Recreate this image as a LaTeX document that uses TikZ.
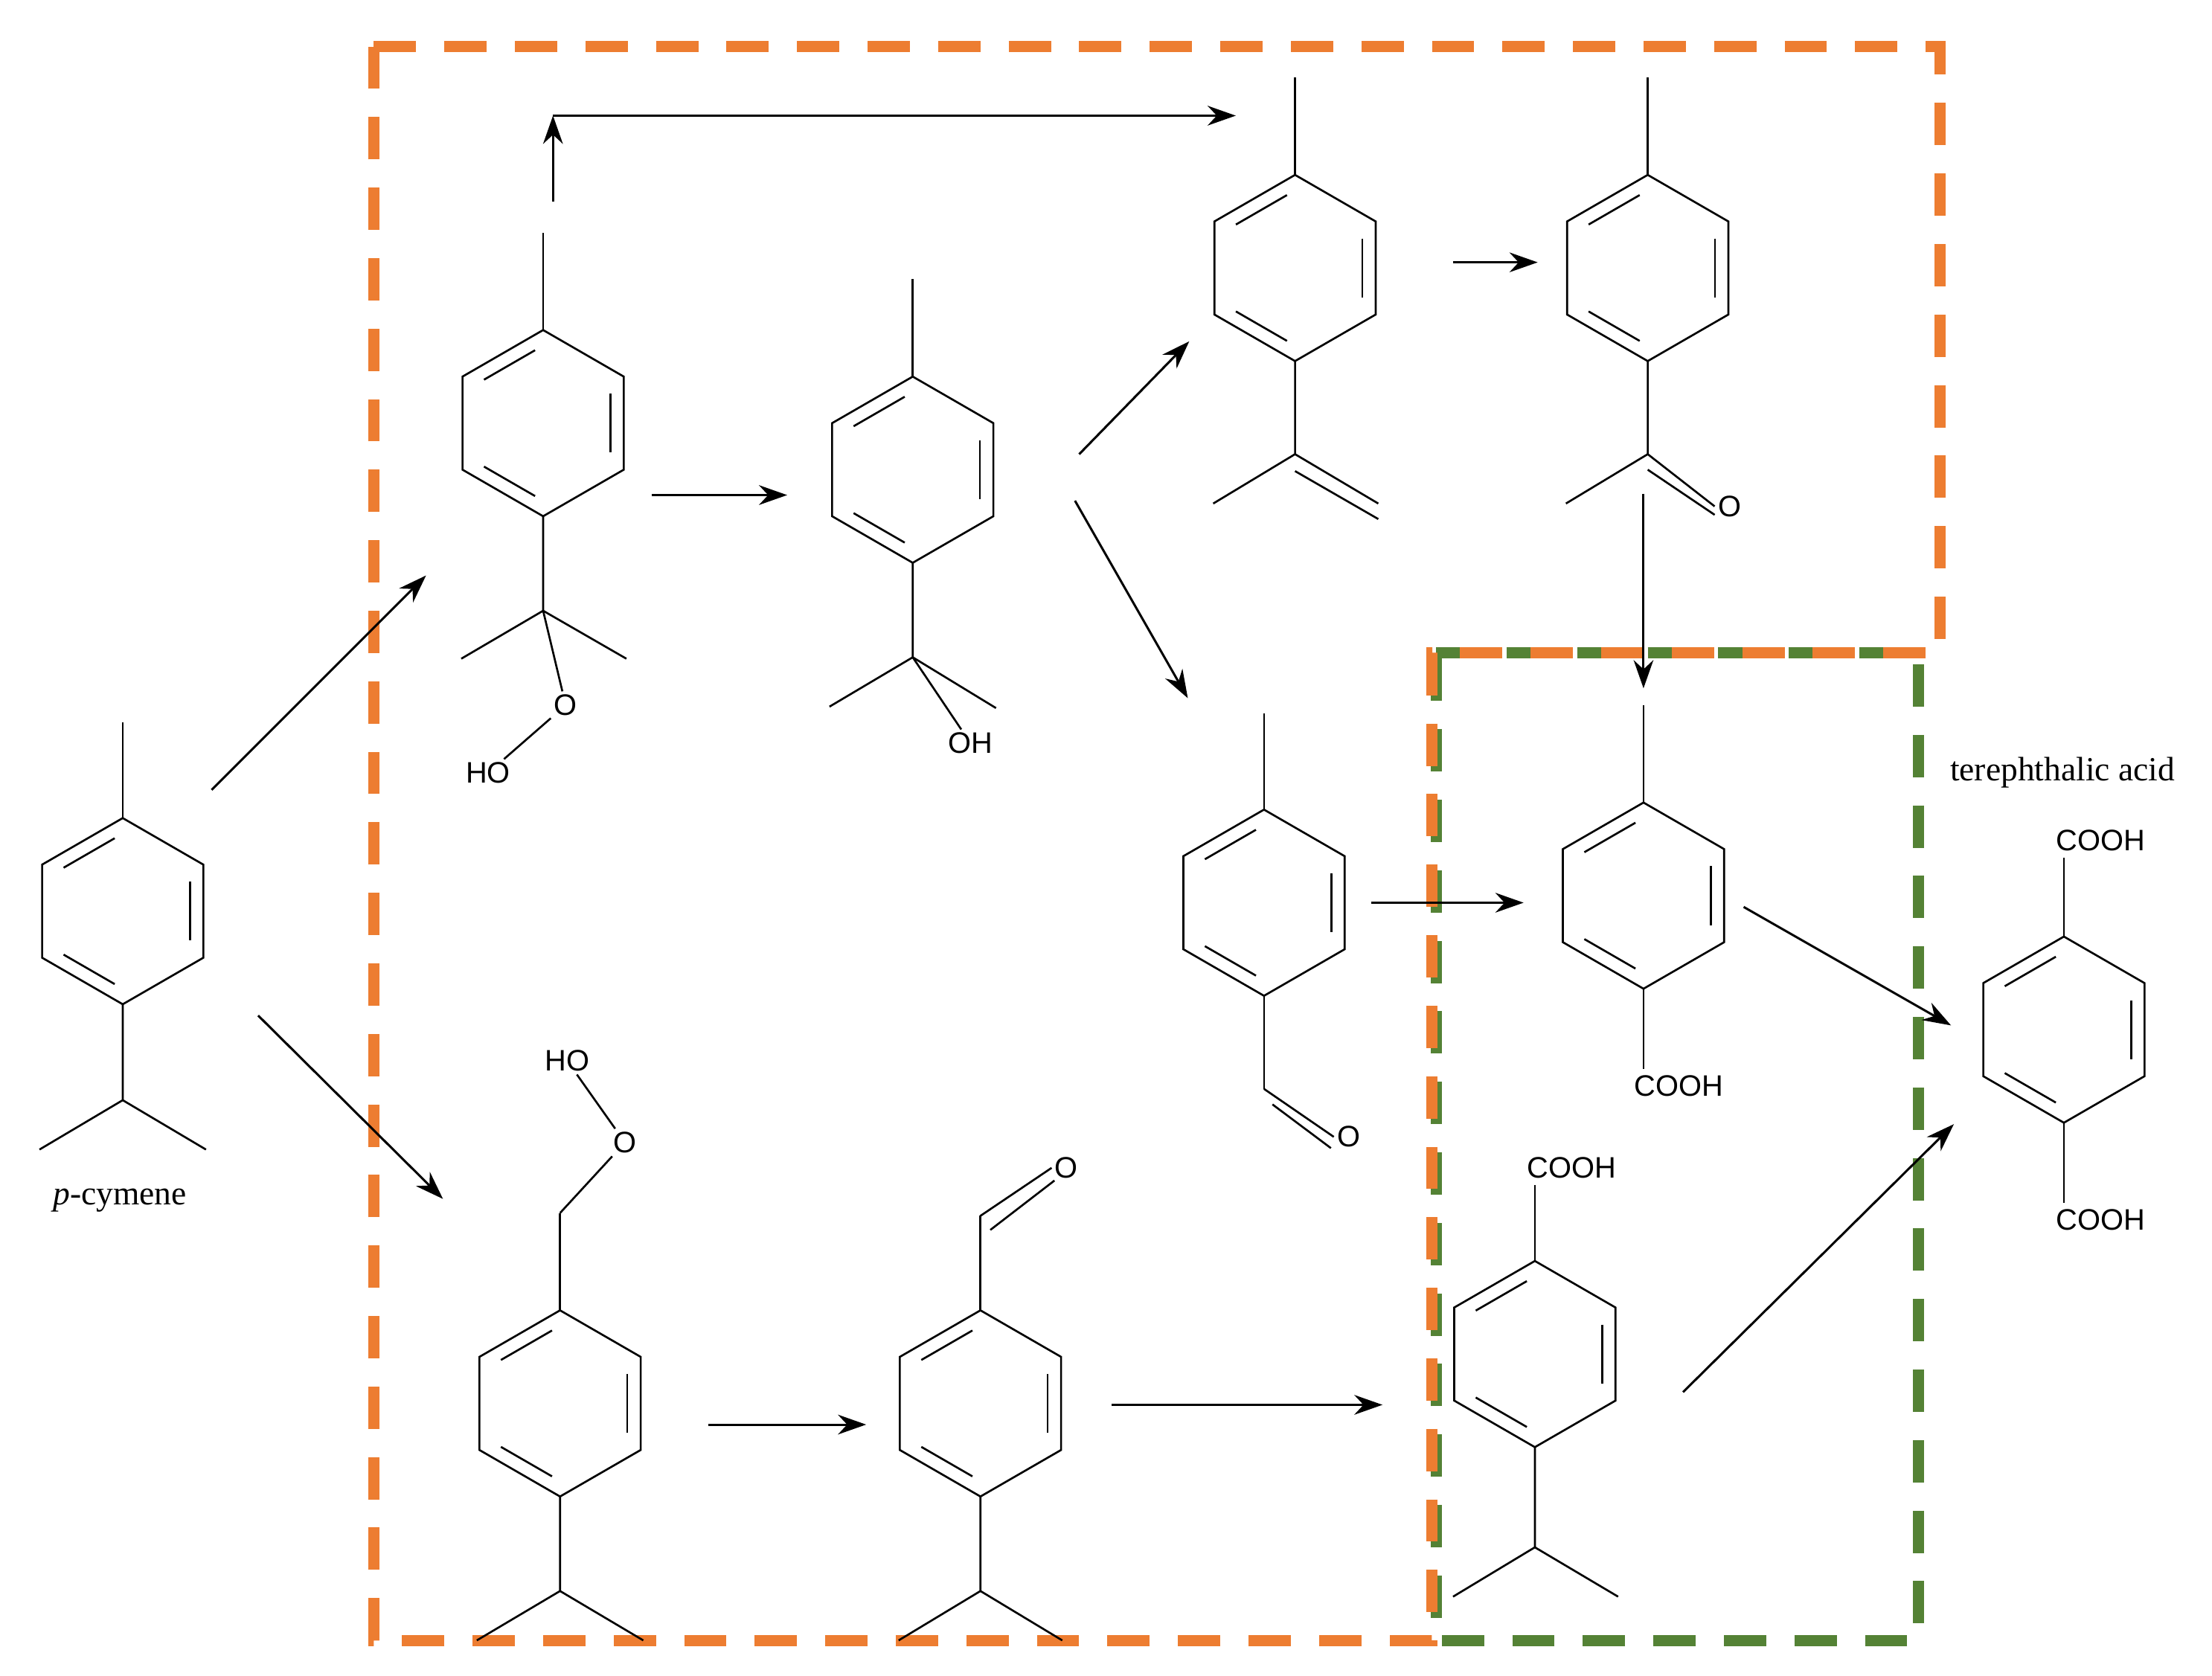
\documentclass[tikz,border=0pt]{standalone}
\usepackage{fontspec}
\setmainfont{Liberation Serif}
\newfontfamily\atomfont{Liberation Sans}
\usetikzlibrary{arrows.meta,calc}
\definecolor{boxorange}{HTML}{ED7D31}
\definecolor{boxgreen}{HTML}{548235}
\newcommand{\benz}[2]{%
  \begin{scope}[shift={(#1,#2)}]
    \draw[bond] (270:66) -- (330:66) -- (30:66) -- (90:66) -- (150:66) -- (210:66) -- cycle;
    \draw[bond] ($(270:55)!0.12!(210:55)$) -- ($(270:55)!0.88!(210:55)$);
    \draw[bond] ($(330:55)!0.12!(30:55)$) -- ($(330:55)!0.88!(30:55)$);
    \draw[bond] ($(150:55)!0.12!(90:55)$) -- ($(150:55)!0.88!(90:55)$);
  \end{scope}}
\tikzset{
  bond/.style={line width=0.7pt},
  rxn/.style={line width=0.8pt,-{Stealth[length=10pt,width=7pt]}},
  atom/.style={font=\atomfont\fontsize{10.5}{12}\selectfont,inner sep=1pt},
  lbl/.style={font=\fontsize{12}{14}\selectfont,inner sep=1pt},
  orangebox/.style={draw=boxorange,line width=4pt,dash pattern=on 15pt off 10pt},
  greenbox/.style={draw=boxgreen,line width=4pt,dash pattern=on 15pt off 10pt}
}
\begin{document}
\begin{tikzpicture}[x=0.5pt,y=-0.5pt]
\useasboundingbox (0,0) rectangle (1568,1188);
% boxes
\draw[greenbox] (1018,463) -- (1360,463) -- (1360,1163) -- (1018,1163) -- cycle;
\draw[orangebox] (265,33) -- (1375,33) -- (1375,463) -- (1015,463) -- (1015,1163) -- (265,1163) -- cycle;
% 1 p-cymene
\benz{87}{646}
\draw[bond] (87,580) -- (87,512);
\draw[bond] (87,712) -- (87,780) -- (28,815);
\draw[bond] (87,780) -- (146,815);
\node[lbl] (pcym) at (85,851) {\textit{p}-cymene};
% 2 tertiary hydroperoxide
\benz{385}{300}
\draw[bond] (385,234) -- (385,165);
\draw[bond] (385,366) -- (385,433) -- (327,467);
\draw[bond] (385,433) -- (444,467);
\node[atom] (o2) at (401,500) {O};
\node[atom] (ho2) at (346,548) {HO};
\draw[bond] (385,433) -- (o2);
\draw[bond] (o2) -- (ho2);
% 3 alcohol
\benz{647}{333}
\draw[bond] (647,268) -- (647,198);
\draw[bond] (647,399) -- (647,466) -- (588,501);
\draw[bond] (647,466) -- (706,502);
\node[atom] (oh3) at (688,527) {OH};
\draw[bond] (647,466) -- (oh3);
% 4 alkene
\benz{918}{190}
\draw[bond] (918,124) -- (918,55);
\draw[bond] (918,256) -- (918,322) -- (860,357);
\draw[bond] (918,322) -- (977,357);
\draw[bond] (918,334) -- (977,368);
% 5 ketone
\benz{1168}{190}
\draw[bond] (1168,124) -- (1168,55);
\draw[bond] (1168,256) -- (1168,322) -- (1110,357);
\node[atom] (o5) at (1226,359) {O};
\draw[bond] (1168,322) -- (o5.west);
\draw[bond] ($(1168,322)+(0,11)$) -- ($(o5.west)+(0,6)$);
% 6 aldehyde
\benz{896}{640}
\draw[bond] (896,574) -- (896,506);
\draw[bond] (896,706) -- (896,772);
\node[atom] (o6) at (956,806) {O};
\draw[bond] (896,772) -- (o6.west);
\draw[bond] ($(896,772)+(6,-2)$) ++(0,13) -- ($(o6.west)+(-2,8)$);
% 7 toluic acid
\benz{1165}{635}
\draw[bond] (1165,569) -- (1165,500);
\node[atom] (cooh7) at (1190,770) {COOH};
\draw[bond] (1165,701) -- (1165,758);
% 8 terephthalic acid
\benz{1463}{730}
\node[atom] (cooh8a) at (1489,596) {COOH};
\node[atom] (cooh8b) at (1489,865) {COOH};
\draw[bond] (1463,664) -- (1463,608);
\draw[bond] (1463,796) -- (1463,853);
\node[lbl] (tpa) at (1462,548) {terephthalic acid};
% 9 primary hydroperoxide
\benz{397}{995}
\draw[bond] (397,929) -- (397,860);
\node[atom] (o9) at (443,810) {O};
\node[atom] (ho9) at (402,752) {HO};
\draw[bond] (397,860) -- (o9);
\draw[bond] (o9) -- (ho9);
\draw[bond] (397,1061) -- (397,1128) -- (338,1163);
\draw[bond] (397,1128) -- (456,1163);
% 10 aldehyde
\benz{695}{995}
\draw[bond] (695,929) -- (695,862);
\node[atom] (o10) at (756,828) {O};
\draw[bond] (695,862) -- (o10.west);
\draw[bond] (702,872) -- ($(o10.west)+(2,9)$);
\draw[bond] (695,1061) -- (695,1128) -- (637,1163);
\draw[bond] (695,1128) -- (753,1163);
% 11 cumic acid
\benz{1088}{960}
\node[atom] (cooh11) at (1114,828) {COOH};
\draw[bond] (1088,894) -- (1088,840);
\draw[bond] (1088,1026) -- (1088,1097) -- (1030,1132);
\draw[bond] (1088,1097) -- (1147,1132);
% reaction arrows
\draw[rxn] (150,560) -- (302,408);
\draw[rxn] (183,720) -- (314,850);
\coordinate (c1) at (392,82);
\draw[rxn] (392,143) -- (c1);
\draw[rxn] (c1) -- (876,82);
\draw[rxn] (462,351) -- (558,351);
\draw[rxn] (765,322) -- (843,242);
\draw[rxn] (762,355) -- (842,495);
\draw[rxn] (1030,186) -- (1090,186);
\draw[rxn] (1165,350) -- (1165,488);
\draw[rxn] (972,640) -- (1080,640);
\draw[rxn] (1236,643) -- (1383,727);
\draw[rxn] (502,1010) -- (614,1010);
\draw[rxn] (788,996) -- (980,996);
\draw[rxn] (1193,987) -- (1385,797);
\end{tikzpicture}
\end{document}
